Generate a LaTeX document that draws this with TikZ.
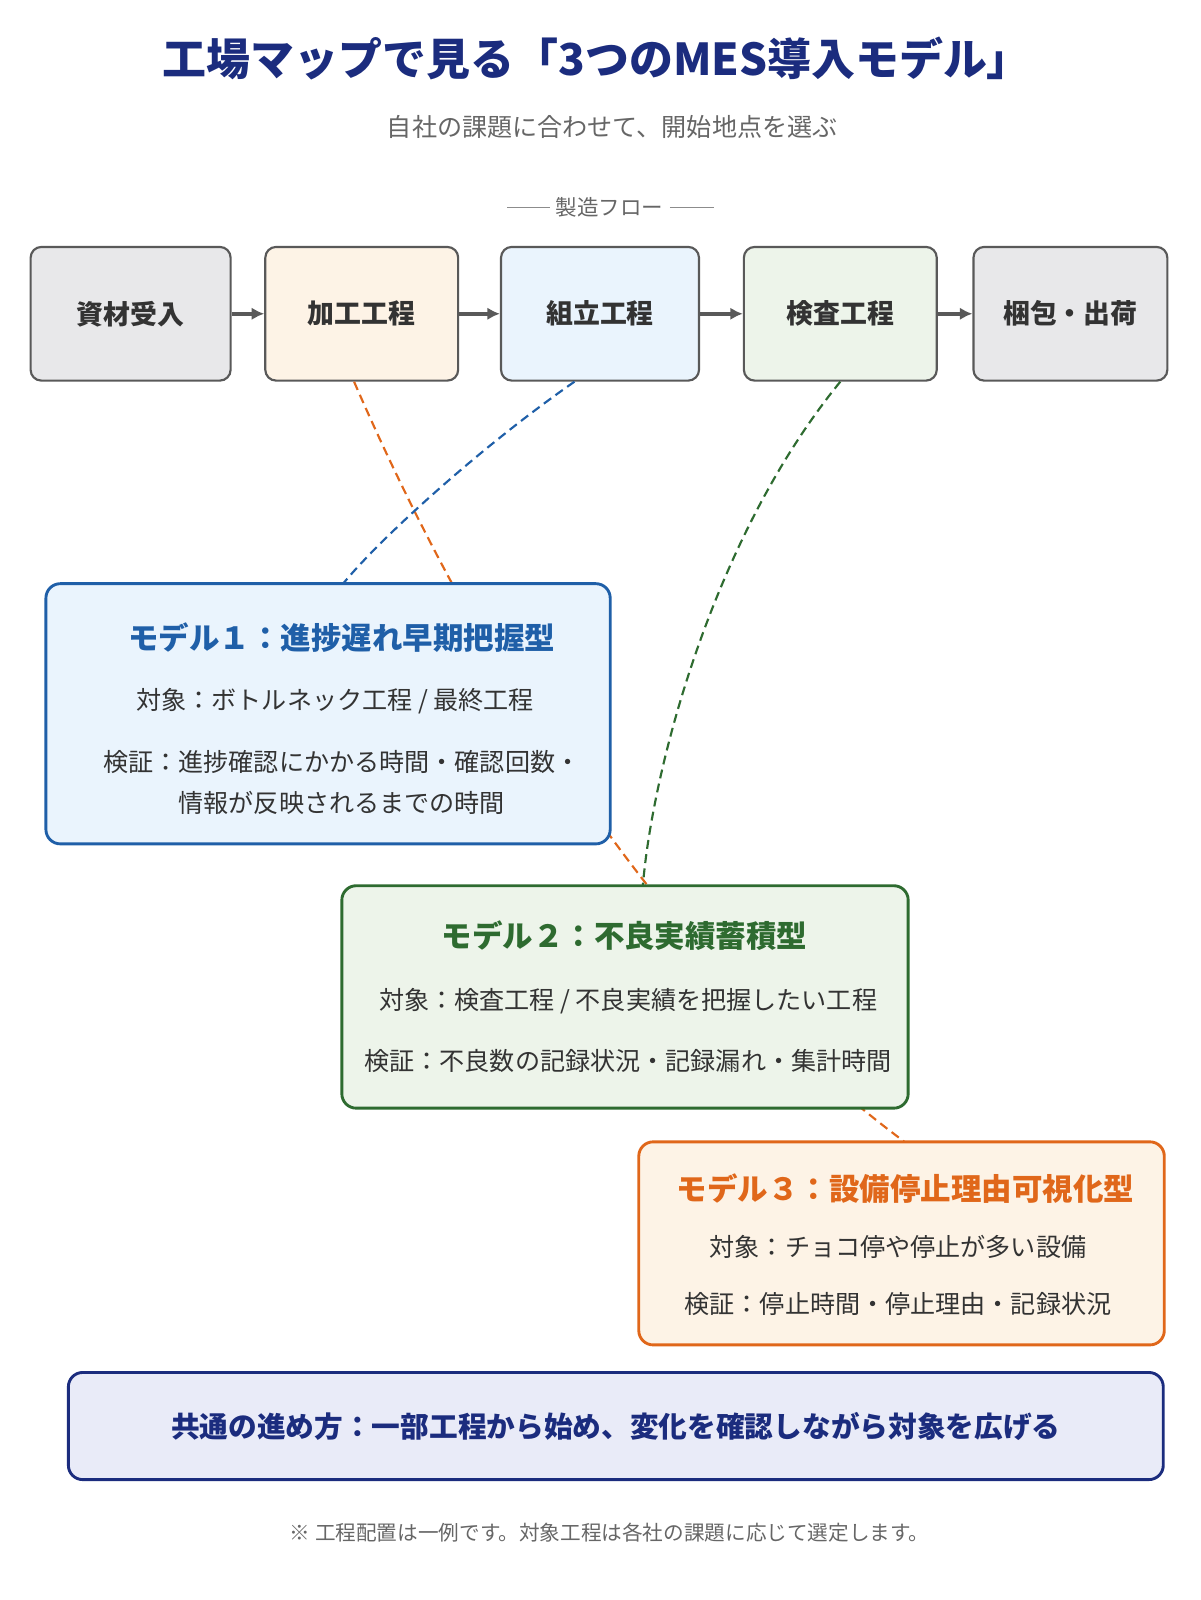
\documentclass[tikz,border=0pt]{standalone}
\usepackage{fontspec}
\setmainfont{Noto Sans CJK JP}
\usetikzlibrary{arrows.meta,positioning}
\definecolor{navy}{HTML}{1B2C7E}
\definecolor{txt}{HTML}{333333}
\definecolor{mblue}{HTML}{1F5FA8}
\definecolor{mgreen}{HTML}{2E6B30}
\definecolor{morange}{HTML}{E0671A}
\definecolor{fgray}{HTML}{E8E8EA}
\definecolor{forange}{HTML}{FDF3E6}
\definecolor{fblue}{HTML}{EAF4FD}
\definecolor{fgreen}{HTML}{EDF4EA}
\definecolor{fnavy}{HTML}{E9EBF8}
\begin{document}
\begin{tikzpicture}[
  proc/.style = {draw=black!65, line width=1.2pt, rounded corners=6pt,
    minimum height=2.62cm, font=\fontsize{15}{17}\selectfont\bfseries, text=txt},
  model/.style = {line width=1.6pt, rounded corners=8pt},
  flow/.style = {-{Latex[length=7pt,width=7pt]}, line width=2.2pt, black!65},
  link/.style = {dashed, line width=1.2pt, dash pattern=on 5pt off 3pt},
  mtitle/.style = {font=\fontsize{17}{19}\selectfont\bfseries},
  mline/.style = {font=\fontsize{14}{23}\selectfont, text=txt, align=center}]
  \useasboundingbox (0,0) rectangle (23.52,-31.36);
  % header
  \node[font=\fontsize{24.5}{26}\selectfont\bfseries, text=navy] (title) at (11.7,-1.14)
    {工場マップで見る「3つのMES導入モデル」};
  \node[font=\fontsize{14}{16}\selectfont, text=black!60] (sub) at (12,-2.48)
    {自社の課題に合わせて、開始地点を選ぶ};
  \node[font=\fontsize{12}{14}\selectfont, text=black!60] (flowlbl) at (11.95,-4.06) {製造フロー};
  \draw[black!45] (9.94,-4.06) -- (flowlbl.west);
  \draw[black!45] (flowlbl.east) -- (14,-4.06);
  % process flow
  \node[proc, fill=fgray, minimum width=3.92cm] (shizai) at (2.56,-6.15) {資材受入};
  \node[proc, fill=forange, minimum width=3.78cm] (kakou) at (7.09,-6.15) {加工工程};
  \node[proc, fill=fblue, minimum width=3.88cm] (kumi) at (11.76,-6.15) {組立工程};
  \node[proc, fill=fgreen, minimum width=3.78cm] (kensa) at (16.47,-6.15) {検査工程};
  \node[proc, fill=fgray, minimum width=3.8cm] (konpo) at (20.98,-6.15) {梱包・出荷};
  \foreach \a/\b in {shizai/kakou, kakou/kumi, kumi/kensa, kensa/konpo}
    \draw[flow] (\a) -- (\b);
  % model boxes (placed first so links can end on them)
  \path (6.43,-13.99) node[minimum width=11.06cm, minimum height=5.1cm] (m1) {};
  \path (12.25,-19.54) node[minimum width=11.1cm, minimum height=4.36cm] (m2) {};
  \path (17.67,-24.37) node[minimum width=10.3cm, minimum height=3.98cm] (m3) {};
  % dashed links
  \draw[link, morange] ([xshift=-0.15cm]kakou.south) .. controls (8.9,-12) and (12.5,-18.5) .. ([xshift=0.05cm]m3.north);
  \draw[link, mblue] ([xshift=-0.5cm]kumi.south) .. controls (9.5,-8.7) and (7.5,-10.5) .. ([xshift=0.3cm]m1.north);
  \draw[link, mgreen] (kensa.south) .. controls (14,-10.5) and (12.8,-15) .. ([xshift=0.35cm]m2.north);
  % model 1
  \node[model, draw=mblue, fill=fblue, minimum width=11.06cm, minimum height=5.1cm] at (m1) {};
  \node[mtitle, text=mblue] (m1t) at (6.7,-12.5) {モデル１：進捗遅れ早期把握型};
  \node[mline] (m1a) at (6.57,-13.74) {対象：ボトルネック工程 / 最終工程};
  \node[mline] (m1b) at (6.7,-15.33) {検証：進捗確認にかかる時間・確認回数・\\情報が反映されるまでの時間};
  % model 2
  \node[model, draw=mgreen, fill=fgreen, minimum width=11.1cm, minimum height=4.36cm] at (m2) {};
  \node[mtitle, text=mgreen] (m2t) at (12.24,-18.34) {モデル２：不良実績蓄積型};
  \node[mline] (m2a) at (12.31,-19.62) {対象：検査工程 / 不良実績を把握したい工程};
  \node[mline] (m2b) at (12.31,-20.8) {検証：不良数の記録状況・記録漏れ・集計時間};
  % model 3
  \node[model, draw=morange, fill=forange, minimum width=10.3cm, minimum height=3.98cm] at (m3) {};
  \node[mtitle, text=morange] (m3t) at (17.75,-23.3) {モデル３：設備停止理由可視化型};
  \node[mline] (m3a) at (17.6,-24.44) {対象：チョコ停や停止が多い設備};
  \node[mline] (m3b) at (17.6,-25.56) {検証：停止時間・停止理由・記録状況};
  % common
  \node[model, draw=navy, fill=fnavy, minimum width=21.46cm, minimum height=2.1cm,
    font=\fontsize{16}{18}\selectfont\bfseries, text=navy] (common) at (12.07,-27.95)
    {共通の進め方：一部工程から始め、変化を確認しながら対象を広げる};
  \node[font=\fontsize{11.5}{13}\selectfont, text=black!60] (note) at (11.95,-30.04)
    {※ 工程配置は一例です。対象工程は各社の課題に応じて選定します。};
\end{tikzpicture}
\end{document}
